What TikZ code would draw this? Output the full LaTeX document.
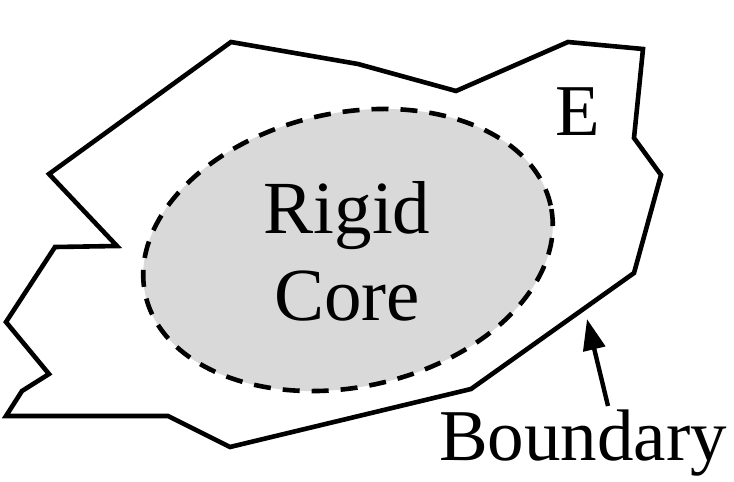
\documentclass[tikz,border=0pt]{standalone}
\usepackage{fontspec}
\setmainfont{Liberation Serif}
\usetikzlibrary{shapes.geometric,arrows.meta}
\definecolor{coregray}{HTML}{D9D9D9}
\tikzset{
  outline/.style={line width=4.6pt, line join=miter},
  corebox/.style={ellipse, draw, line width=4.6pt, dash pattern=on 17pt off 12pt,
    fill=coregray, inner sep=0pt},
  bigtext/.style={font=\fontsize{75}{87}\selectfont, inner sep=0pt, anchor=base},
  labeltext/.style={font=\fontsize{73}{84}\selectfont, inner sep=0pt, anchor=base},
  pointer/.style={line width=4.4pt, -{Triangle[length=31pt,width=22pt]}}
}
\begin{document}
\begin{tikzpicture}[x=1pt,y=-1pt]
  \useasboundingbox (0,0) rectangle (734,482);
  % outer region E
  \draw[outline] (231,42) -- (358,64) -- (456,91) -- (568,42) -- (643,49)
    -- (634,138) -- (661,175) -- (634,273) -- (471,389) -- (230,447)
    -- (168,416) -- (6,416) -- (22,391) -- (49,374) -- (6,322)
    -- (55,247) -- (117,246) -- (49,174) -- cycle;
  % rigid core
  \node[corebox, rotate=12.4, minimum width=415pt, minimum height=274pt] (core) at (348,250) {};
  \node[bigtext] (rigid) at (347,233) {Rigid};
  \node[bigtext] (corelbl) at (347,320) {Core};
  \node[labeltext] (E) at (578,135) {E};
  \node[labeltext] (bnd) at (583,460) {Boundary};
  % pointer to the boundary
  \coordinate (tail) at (608,406);
  \coordinate (tip) at (587,319);
  \draw[pointer] (tail) -- (tip);
\end{tikzpicture}
\end{document}
